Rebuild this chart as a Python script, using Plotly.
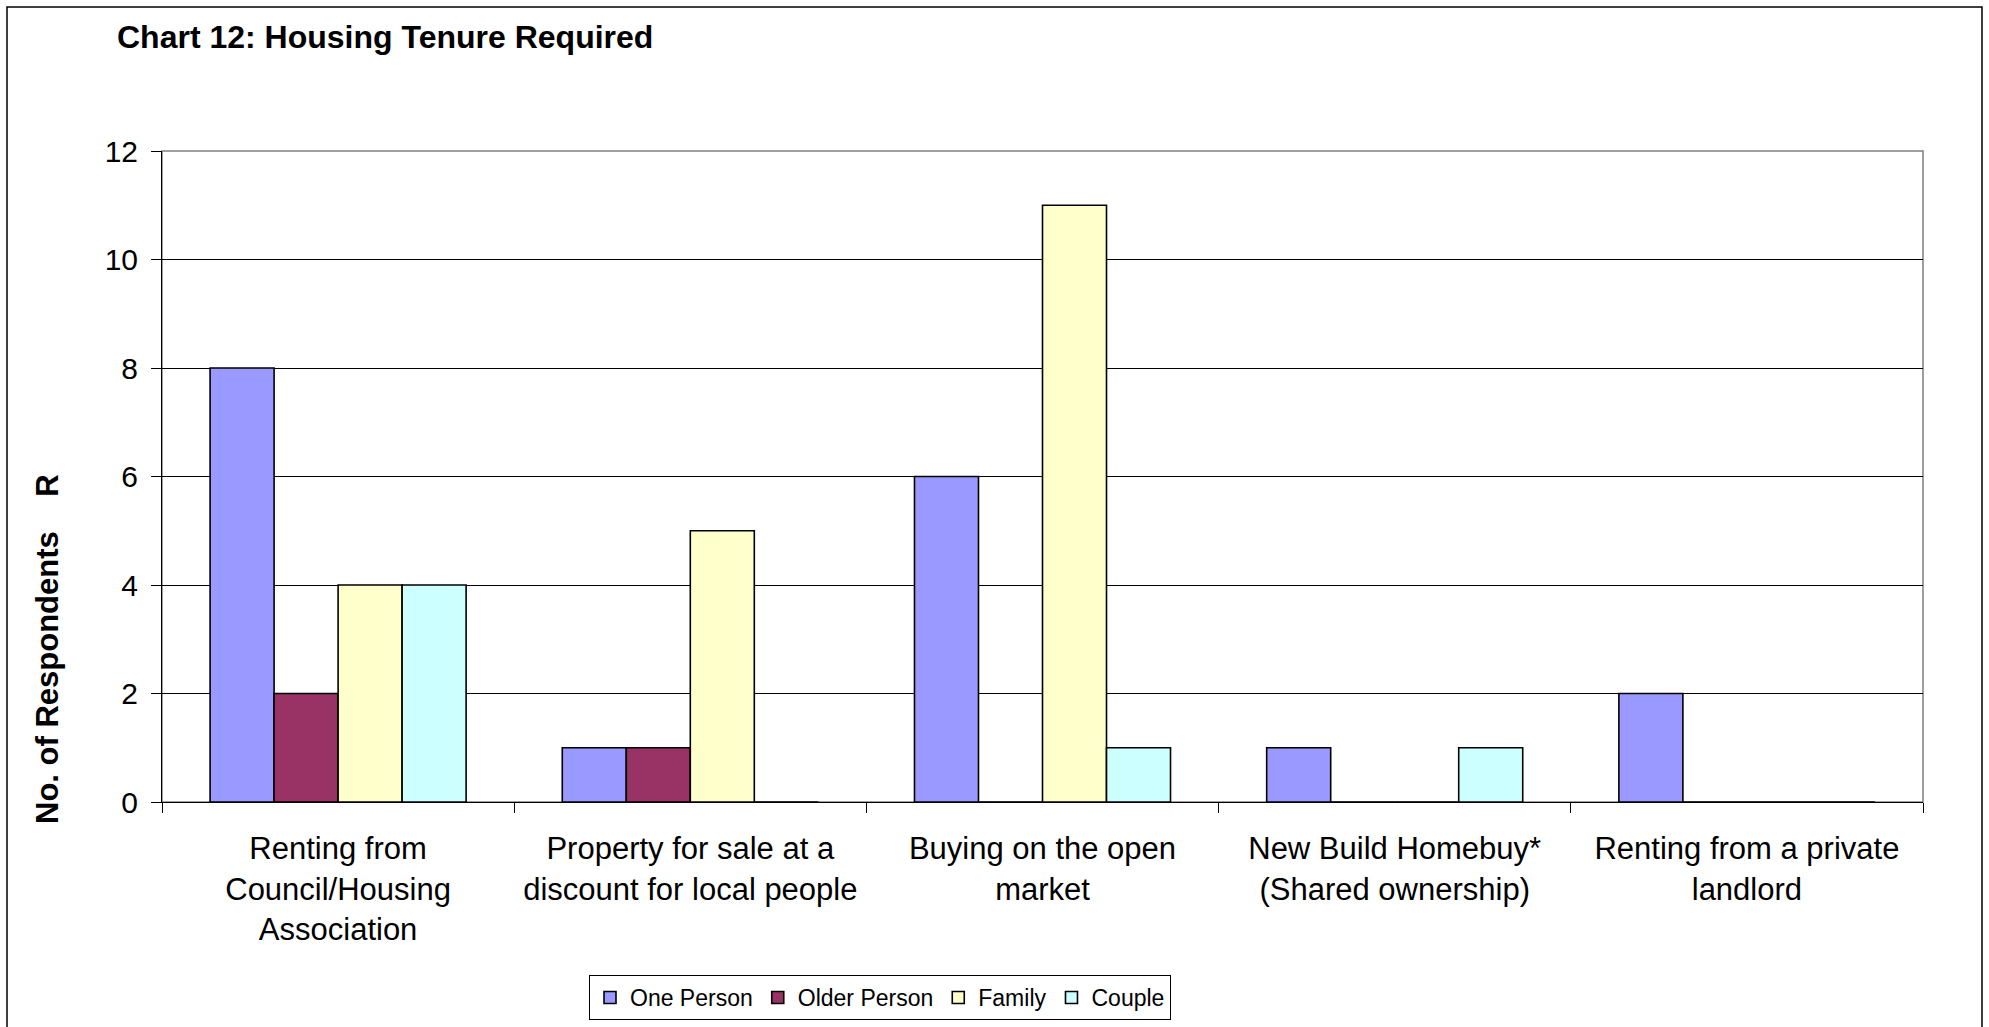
import plotly.graph_objects as go

# Survey responses: housing tenure required, by household type
categories = [
    "Renting from<br>Council/Housing<br>Association",
    "Property for sale at a<br>discount for local people",
    "Buying on the open<br>market",
    "New Build Homebuy*<br>(Shared ownership)",
    "Renting from a private<br>landlord",
]
one_person = [8, 1, 6, 1, 2]
older_person = [2, 1, 0, 0, 0]
family = [4, 5, 11, 0, 0]
couple = [4, 0, 1, 1, 0]

series_names = ["One Person", "Older Person", "Family", "Couple"]
series_values = [one_person, older_person, family, couple]
series_colors = ["#9999FF", "#993366", "#FFFFCC", "#CCFFFF"]

y_ticks = [0, 2, 4, 6, 8, 10, 12]

FONT = "Arial, 'Liberation Sans', sans-serif"

W, H = 1989, 1027
L, R, T, B = 162, 66, 151, 225
PW, PH = W - L - R, H - T - B


def px_x(x):
    return (x - L) / PW


def px_y(y):
    return (H - B - y) / PH


fig = go.Figure()
for name, vals, col in zip(series_names, series_values, series_colors):
    fig.add_trace(go.Bar(
        name=name,
        x=categories,
        y=vals,
        marker=dict(color=col, line=dict(color="#000000", width=1.6)),
    ))

fig.update_layout(
    width=W,
    height=H,
    margin=dict(l=L, r=R, t=T, b=B, pad=0, autoexpand=False),
    paper_bgcolor="white",
    plot_bgcolor="white",
    barmode="group",
    bargap=0.273,
    bargroupgap=0,
    font=dict(family=FONT, color="black"),
    showlegend=True,
    legend=dict(
        orientation="h",
        x=px_x(589),
        xanchor="left",
        y=px_y(975),
        yanchor="top",
        font=dict(family=FONT, size=23, color="black"),
        bordercolor="#000000",
        borderwidth=1,
        bgcolor="white",
        itemwidth=30,
        traceorder="normal",
    ),
    xaxis=dict(
        type="category",
        showline=True,
        linecolor="#000000",
        linewidth=1,
        ticks="outside",
        tickson="boundaries",
        ticklen=10,
        tickcolor="#000000",
        tickfont=dict(family=FONT, size=31, color="black"),
        ticklabelstandoff=19,
        showgrid=False,
        fixedrange=True,
        automargin=False,
    ),
    yaxis=dict(
        range=[0, 12],
        tickvals=y_ticks,
        ticktext=[str(v) for v in y_ticks],
        showline=True,
        linecolor="#000000",
        linewidth=1,
        ticks="outside",
        ticklen=10,
        tickcolor="#000000",
        tickfont=dict(family=FONT, size=30, color="black"),
        ticklabelstandoff=7,
        showgrid=True,
        gridcolor="#000000",
        gridwidth=1,
        zeroline=False,
        automargin=False,
    ),
    shapes=[
        # plot-area frame (top and right edges show grey)
        dict(type="rect", xref="paper", yref="paper", x0=0, x1=1, y0=0, y1=1,
             line=dict(color="#808080", width=1.5), layer="below"),
        # outer chart border
        dict(type="rect", xref="paper", yref="paper",
             x0=px_x(7), x1=px_x(1982), y0=px_y(1045), y1=px_y(7),
             line=dict(color="#000000", width=1.5), layer="below"),
    ],
    annotations=[
        dict(text="<b>Chart 12: Housing Tenure Required</b>", xref="paper", yref="paper",
             x=px_x(115), y=px_y(37), xanchor="left", yanchor="middle", showarrow=False,
             font=dict(family=FONT, size=32, color="black")),
        dict(text="<b>No. of Respondents\u00a0\u00a0\u00a0\u00a0R</b>", xref="paper", yref="paper",
             x=px_x(47), y=px_y(649), xanchor="center", yanchor="middle", showarrow=False,
             textangle=-90, font=dict(family=FONT, size=31, color="black")),
    ],
)

fig.write_html("out.html")
